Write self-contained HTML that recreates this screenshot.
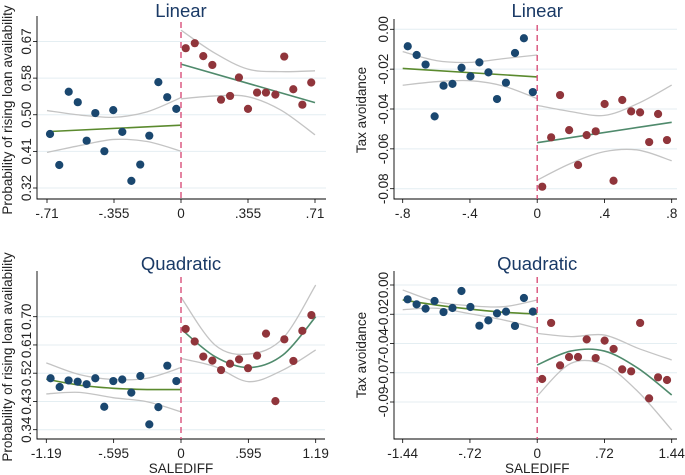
<!DOCTYPE html>
<html><head><meta charset="utf-8"><style>
body{margin:0;background:#fff;}
svg{display:block;font-family:"Liberation Sans",sans-serif;}
</style></head><body>
<svg id="chart" width="685" height="475" viewBox="0 0 685 475"></svg>
<script>
// ===== Panel 1: Linear, loan availability =====
const p1BlueX=[-0.694,-0.645,-0.595,-0.547,-0.500,-0.454,-0.406,-0.359,-0.311,-0.263,-0.216,-0.168,-0.120,-0.073,-0.025];
const p1BlueY=[0.449,0.375,0.550,0.525,0.433,0.499,0.408,0.506,0.454,0.337,0.376,0.445,0.573,0.537,0.509];
const p1RedX=[0.025,0.073,0.118,0.166,0.212,0.260,0.307,0.355,0.403,0.450,0.500,0.547,0.595,0.643,0.690];
const p1RedY=[0.654,0.666,0.635,0.614,0.531,0.540,0.584,0.509,0.548,0.548,0.543,0.634,0.556,0.519,0.572];
const p1LeftGridX=[-0.694,0];
const p1LeftFit=[0.455,0.470];
const p1RightGridX=[0,0.71];
const p1RightFit=[0.616,0.524];
const p1CiLX=[-0.71,-0.53,-0.355,-0.18,0];
const p1CiLUp=[0.505,0.494,0.489,0.502,0.536];
const p1CiLLo=[0.405,0.422,0.436,0.431,0.408];
const p1CiRX=[0,0.18,0.355,0.53,0.71];
const p1CiRUp=[0.697,0.642,0.604,0.598,0.600];
const p1CiRLo=[0.533,0.540,0.538,0.506,0.447];
const p1XTicks=[-0.71,-0.355,0,0.355,0.71];
const p1XLabels=["-.71","-.355","0",".355",".71"];
const p1YTicks=[0.32,0.4075,0.495,0.5825,0.67];
const p1YLabels=["0.32","0.41","0.50","0.58","0.67"];

// ===== Panel 2: Linear, tax avoidance =====
const p2BlueX=[-0.770,-0.717,-0.664,-0.610,-0.557,-0.504,-0.450,-0.397,-0.344,-0.290,-0.239,-0.186,-0.132,-0.079,-0.026];
const p2BlueY=[-0.0085,-0.0129,-0.0177,-0.0437,-0.0283,-0.0274,-0.0193,-0.0236,-0.0166,-0.0216,-0.0350,-0.0268,-0.0119,-0.0045,-0.0315];
const p2RedX=[0.030,0.083,0.136,0.190,0.243,0.294,0.348,0.401,0.454,0.506,0.559,0.612,0.666,0.719,0.772];
const p2RedY=[-0.0790,-0.0542,-0.0330,-0.0506,-0.0681,-0.0531,-0.0512,-0.0375,-0.0760,-0.0355,-0.0412,-0.0417,-0.0566,-0.0425,-0.0556];
const p2LeftGridX=[-0.8,0];
const p2LeftFit=[-0.0196,-0.0239];
const p2RightGridX=[0,0.8];
const p2RightFit=[-0.0569,-0.0467];
const p2CiLX=[-0.8,-0.6,-0.4,-0.2,0];
const p2CiLUp=[-0.0112,-0.0157,-0.0166,-0.0147,-0.0129];
const p2CiLLo=[-0.0281,-0.0263,-0.0258,-0.0285,-0.0348];
const p2CiRX=[0,0.2,0.4,0.6,0.8];
const p2CiRUp=[-0.0382,-0.0413,-0.0432,-0.0372,-0.0280];
const p2CiRLo=[-0.0757,-0.0673,-0.0614,-0.0606,-0.0660];
const p2XTicks=[-0.8,-0.4,0,0.4,0.8];
const p2XLabels=["-.8","-.4","0",".4",".8"];
const p2YTicks=[-0.08,-0.06,-0.04,-0.02,0];
const p2YLabels=["-0.08","-0.06","-0.04","-0.02","0.00"];

// ===== Panel 3: Quadratic, loan availability =====
const p3BlueX=[-1.152,-1.072,-0.993,-0.913,-0.834,-0.757,-0.678,-0.598,-0.519,-0.439,-0.359,-0.280,-0.200,-0.121,-0.041];
const p3BlueY=[0.504,0.476,0.497,0.493,0.485,0.504,0.413,0.495,0.500,0.458,0.511,0.357,0.412,0.544,0.495];
const p3RedX=[0.041,0.121,0.197,0.277,0.354,0.433,0.513,0.592,0.672,0.751,0.834,0.913,0.993,1.072,1.152];
const p3RedY=[0.661,0.621,0.573,0.560,0.530,0.550,0.564,0.536,0.576,0.646,0.431,0.628,0.559,0.655,0.705];
const p3LeftGridX=[-1.19,-0.9,-0.6,-0.3,0];
const p3LeftFit=[0.501,0.482,0.472,0.468,0.468];
const p3RightGridX=[0,0.3,0.6,0.9,1.19];
const p3RightFit=[0.661,0.573,0.538,0.578,0.700];
const p3CiLX=[-1.19,-0.9,-0.6,-0.3,0];
const p3CiLUp=[0.553,0.516,0.500,0.504,0.538];
const p3CiLLo=[0.454,0.459,0.442,0.429,0.397];
const p3CiRX=[0,0.3,0.6,0.9,1.19];
const p3CiRUp=[0.762,0.610,0.581,0.631,0.801];
const p3CiRLo=[0.567,0.541,0.493,0.530,0.594];
const p3XTicks=[-1.19,-0.595,0,0.595,1.19];
const p3XLabels=["-1.19","-.595","0",".595","1.19"];
const p3YTicks=[0.34,0.43,0.52,0.61,0.70];
const p3YLabels=["0.34","0.43","0.52","0.61","0.70"];

// ===== Panel 4: Quadratic, tax avoidance =====
const p4BlueX=[-1.387,-1.291,-1.195,-1.099,-1.003,-0.907,-0.811,-0.715,-0.619,-0.523,-0.430,-0.334,-0.238,-0.142,-0.046];
const p4BlueY=[-0.0110,-0.0149,-0.0182,-0.0123,-0.0208,-0.0177,-0.0046,-0.0169,-0.0313,-0.0272,-0.0218,-0.0205,-0.0315,-0.0100,-0.0205];
const p4RedX=[0.053,0.149,0.245,0.341,0.437,0.530,0.626,0.722,0.818,0.910,1.006,1.102,1.198,1.294,1.390];
const p4RedY=[-0.0723,-0.0292,-0.0618,-0.0554,-0.0554,-0.0418,-0.0562,-0.0428,-0.0492,-0.0649,-0.0664,-0.0292,-0.0872,-0.0710,-0.0731];
const p4LeftGridX=[-1.44,-1.08,-0.72,-0.36,0];
const p4LeftFit=[-0.0115,-0.0154,-0.0185,-0.0210,-0.0223];
const p4RightGridX=[0,0.36,0.72,1.08,1.44];
const p4RightFit=[-0.0615,-0.0508,-0.0508,-0.0641,-0.0846];
const p4CiLX=[-1.44,-1.08,-0.72,-0.36,0];
const p4CiLUp=[-0.0038,-0.0128,-0.0159,-0.0167,-0.0115];
const p4CiLLo=[-0.0190,-0.0179,-0.0221,-0.0269,-0.0333];
const p4CiRX=[0,0.36,0.72,1.08,1.44];
const p4CiRUp=[-0.0372,-0.0397,-0.0385,-0.0487,-0.0577];
const p4CiRLo=[-0.0854,-0.0603,-0.0615,-0.0821,-0.1115];
const p4XTicks=[-1.44,-0.72,0,0.72,1.44];
const p4XLabels=["-1.44","-.72","0",".72","1.44"];
const p4YTicks=[-0.09,-0.0675,-0.045,-0.0225,0];
const p4YLabels=["-0.09","-0.07","-0.04","-0.02","0.00"];

const NS="http://www.w3.org/2000/svg";
const svg=document.getElementById('chart');
function mk(tag,attrs,parent){const e=document.createElementNS(NS,tag);for(const k in attrs)e.setAttribute(k,attrs[k]);(parent||svg).appendChild(e);return e;}
function smooth(pts){
  if(pts.length<3)return 'M'+pts.map(p=>p[0].toFixed(1)+','+p[1].toFixed(1)).join(' L');
  let d='M'+pts[0][0]+','+pts[0][1];
  for(let i=0;i<pts.length-1;i++){
    const p0=pts[Math.max(0,i-1)],p1=pts[i],p2=pts[i+1],p3=pts[Math.min(pts.length-1,i+2)];
    const c1=[p1[0]+(p2[0]-p0[0])/6,p1[1]+(p2[1]-p0[1])/6];
    const c2=[p2[0]-(p3[0]-p1[0])/6,p2[1]-(p3[1]-p1[1])/6];
    d+=' C'+c1[0]+','+c1[1]+' '+c2[0]+','+c2[1]+' '+p2[0]+','+p2[1];
  }
  return d;
}
function panel(c){
  const g=mk('g',{});
  
  
  const xs=v=>c.xa+(v-c.xTicks[0])/(c.xTicks[c.xTicks.length-1]-c.xTicks[0])*(c.xb-c.xa);
  const ys=v=>c.ya+(v-c.yTicks[0])/(c.yTicks[c.yTicks.length-1]-c.yTicks[0])*(c.yb-c.ya);
  c.yTicks.forEach((t,i)=>{
    const gl=mk('line',{x1:c.left,x2:c.right,y1:ys(t),y2:ys(t),stroke:'#e4eef2','stroke-width':1},g);
    
    
    const tk=mk('line',{x1:c.left-4,x2:c.left,y1:ys(t),y2:ys(t),stroke:'#000','stroke-width':0.8},g);
    
    
    const yy=ys(t);
    const lb=mk('text',{x:c.left-6,y:yy,transform:`rotate(-90 ${c.left-6} ${yy})`,'text-anchor':'middle','font-size':13.5,fill:'#222'},g);
    lb.textContent=c.yLabels[i];
    
    
  });
  c.xTicks.forEach((t,i)=>{
    const tk=mk('line',{x1:xs(t),x2:xs(t),y1:c.bottom,y2:c.bottom+4,stroke:'#000','stroke-width':0.8},g);
    
    
    const lb=mk('text',{x:xs(t),y:c.bottom+19,'text-anchor':'middle','font-size':13.5,fill:'#222'},g);
    lb.textContent=c.xLabels[i];
    
    
  });
  const ax=mk('path',{d:`M${c.left},${c.top-6} L${c.left},${c.bottom} L${c.right},${c.bottom}`,fill:'none',stroke:'#000','stroke-width':0.9},g);
  
  
  [[c.ciLX,c.ciLUp],[c.ciLX,c.ciLLo],[c.ciRX,c.ciRUp],[c.ciRX,c.ciRLo]].forEach(([X,Y])=>{
    const p=mk('path',{d:smooth(X.map((x,i)=>[xs(x),ys(Y[i])])),fill:'none',stroke:'#c4c4c4','stroke-width':1.3},g);
    
    
  });
  const fl=mk('path',{d:smooth(c.lfx.map((x,i)=>[xs(x),ys(c.lf[i])])),fill:'none',stroke:'#5b8a2e','stroke-width':1.6},g);
  
  
  const fr=mk('path',{d:smooth(c.rfx.map((x,i)=>[xs(x),ys(c.rf[i])])),fill:'none',stroke:'#4f8a6c','stroke-width':1.6},g);
  
  
  c.bx.forEach((x,i)=>{
    const d=mk('circle',{cx:xs(x),cy:ys(c.by[i]),r:4.1,fill:'#1a476f'},g);
    
    
  });
  c.rx.forEach((x,i)=>{
    const d=mk('circle',{cx:xs(x),cy:ys(c.ry[i]),r:4.1,fill:'#90353b'},g);
    
    
  });
  const cut=mk('line',{x1:xs(0),x2:xs(0),y1:c.top,y2:c.bottom,stroke:'#d9507a','stroke-width':1.4,'stroke-dasharray':'6,4'},g);
  
  
  const t=mk('text',{x:xs(0),y:c.titleY,'text-anchor':'middle','font-size':18.5,fill:'#1a3a66'},g);
  t.textContent=c.title;
  
  
  const yt=mk('text',{x:c.ytX,y:c.ytY,transform:`rotate(-90 ${c.ytX} ${c.ytY})`,'text-anchor':'middle','font-size':13.5,fill:'#222'},g);
  yt.textContent=c.yTitle;
  
  
  if(c.xTitle){
    const xt=mk('text',{x:xs(0),y:c.bottom+34,'text-anchor':'middle','font-size':13.5,fill:'#222'},g);
    xt.textContent=c.xTitle;
    
    
  }
}
panel({name:'panel-linear-loan',title:'Linear',titleY:17,yTitle:'Probability of rising loan availability',ytX:12,ytY:110,
  xa:47,xb:315,ya:188,yb:41.5,left:37,right:326,top:22,bottom:199,
  xTicks:p1XTicks,xLabels:p1XLabels,yTicks:p1YTicks,yLabels:p1YLabels,
  bx:p1BlueX,by:p1BlueY,rx:p1RedX,ry:p1RedY,lfx:p1LeftGridX,lf:p1LeftFit,rfx:p1RightGridX,rf:p1RightFit,
  ciLX:p1CiLX,ciLUp:p1CiLUp,ciLLo:p1CiLLo,ciRX:p1CiRX,ciRUp:p1CiRUp,ciRLo:p1CiRLo});
panel({name:'panel-linear-tax',title:'Linear',titleY:17,yTitle:'Tax avoidance',ytX:366,ytY:110,
  xa:402.7,xb:671.7,ya:188.7,yb:29.3,left:394,right:677,top:25,bottom:199,
  xTicks:p2XTicks,xLabels:p2XLabels,yTicks:p2YTicks,yLabels:p2YLabels,
  bx:p2BlueX,by:p2BlueY,rx:p2RedX,ry:p2RedY,lfx:p2LeftGridX,lf:p2LeftFit,rfx:p2RightGridX,rf:p2RightFit,
  ciLX:p2CiLX,ciLUp:p2CiLUp,ciLLo:p2CiLLo,ciRX:p2CiRX,ciRUp:p2CiRUp,ciRLo:p2CiRLo});
panel({name:'panel-quadratic-loan',title:'Quadratic',titleY:270,yTitle:'Probability of rising loan availability',ytX:12,ytY:357,
  xa:46.3,xb:315.7,ya:429.7,yb:316.7,left:37,right:325,top:277,bottom:439,xTitle:'SALEDIFF',
  xTicks:p3XTicks,xLabels:p3XLabels,yTicks:p3YTicks,yLabels:p3YLabels,
  bx:p3BlueX,by:p3BlueY,rx:p3RedX,ry:p3RedY,lfx:p3LeftGridX,lf:p3LeftFit,rfx:p3RightGridX,rf:p3RightFit,
  ciLX:p3CiLX,ciLUp:p3CiLUp,ciLLo:p3CiLLo,ciRX:p3CiRX,ciRUp:p3CiRUp,ciRLo:p3CiRLo});
panel({name:'panel-quadratic-tax',title:'Quadratic',titleY:270,yTitle:'Tax avoidance',ytX:366,ytY:355,
  xa:402.7,xb:671.7,ya:402,yb:285,left:394,right:677,top:277,bottom:439,xTitle:'SALEDIFF',
  xTicks:p4XTicks,xLabels:p4XLabels,yTicks:p4YTicks,yLabels:p4YLabels,
  bx:p4BlueX,by:p4BlueY,rx:p4RedX,ry:p4RedY,lfx:p4LeftGridX,lf:p4LeftFit,rfx:p4RightGridX,rf:p4RightFit,
  ciLX:p4CiLX,ciLUp:p4CiLUp,ciLLo:p4CiLLo,ciRX:p4CiRX,ciRUp:p4CiRUp,ciRLo:p4CiRLo});
</script>
</body></html>
